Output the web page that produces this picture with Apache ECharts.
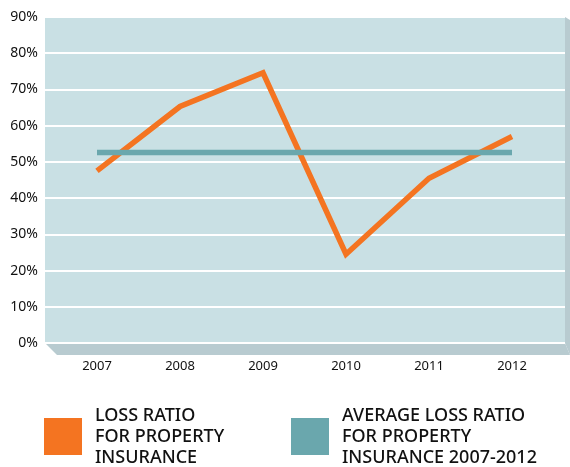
<!DOCTYPE html>
<html>
<head>
<meta charset="utf-8">
<script src="https://cdn.jsdelivr.net/npm/echarts@6/dist/echarts.min.js"></script>
<style>html,body{margin:0;padding:0;background:#fff}#c{width:570px;height:467px}</style>
</head>
<body>
<div id="c"></div>
<script>
var years = ['2007', '2008', '2009', '2010', '2011', '2012'];
var lossRatio = [47.5, 65.3, 74.6, 24.5, 45.5, 57.0];
var avgLossRatio = [52.6, 52.6, 52.6, 52.6, 52.6, 52.6];
var yTicks = [0, 10, 20, 30, 40, 50, 60, 70, 80, 90];
var lossName = 'LOSS RATIO\nFOR PROPERTY\nINSURANCE';
var avgName = 'AVERAGE LOSS RATIO\nFOR PROPERTY\nINSURANCE 2007-2012';

var W = 570, H = 467;
var PL = 45, PR = 565, PT = 17, PB = 343, DEPTH = 12, SIDE = 5;
var font = '"Noto Sans", "Open Sans", sans-serif';
var chart = echarts.init(document.getElementById('c'), null, {renderer: 'canvas'});

var legendText = {fontFamily: font, fontSize: 18, fontWeight: 500, lineHeight: 21, color: '#111111', padding: [0, 0, 0, 8]};

chart.setOption({
  animation: false,
  backgroundColor: '#ffffff',
  grid: [
    {left: PL, right: W - PR, top: PT, bottom: H - PB, show: true, backgroundColor: '#c9e0e4', borderWidth: 0},
    {left: 97, right: W - 512, top: PT, bottom: H - PB}
  ],
  xAxis: [
    {gridIndex: 0, type: 'category', data: years, show: false},
    {gridIndex: 1, type: 'category', data: years, boundaryGap: false,
     axisLine: {show: false}, axisTick: {show: false}, splitLine: {show: false},
     axisLabel: {margin: 17, fontFamily: font, fontSize: 13, color: '#111111'}}
  ],
  yAxis: [
    {gridIndex: 0, type: 'value', min: yTicks[0], max: yTicks[yTicks.length - 1], interval: 10,
     axisLine: {show: false}, axisTick: {show: false},
     splitLine: {show: true, lineStyle: {color: '#ffffff', width: 2}},
     axisLabel: {margin: 7, formatter: '{value}%', fontFamily: font, fontSize: 14, color: '#111111'}},
    {gridIndex: 1, type: 'value', min: yTicks[0], max: yTicks[yTicks.length - 1], interval: 10, show: false}
  ],
  legend: [
    {data: [lossName], left: 44, top: 405, padding: 0, icon: 'rect', itemWidth: 38, itemHeight: 37, itemGap: 0,
     textStyle: legendText, selectedMode: false},
    {data: [avgName], left: 291, top: 405, padding: 0, icon: 'rect', itemWidth: 38, itemHeight: 37, itemGap: 0,
     textStyle: legendText, selectedMode: false}
  ],
  graphic: [
    {type: 'polygon', silent: true, z: -1,
     shape: {points: [[PL, PB], [PR, PB], [PR + SIDE, PB + DEPTH], [PL + DEPTH, PB + DEPTH]]},
     style: {fill: '#b8cbd0'}},
    {type: 'polygon', silent: true, z: -1,
     shape: {points: [[PR, PT], [PR + SIDE, PT + 3], [PR + SIDE, PB + DEPTH], [PR, PB]]},
     style: {fill: '#b8cbd0'}}
  ],
  series: [
    {name: lossName, type: 'line', xAxisIndex: 1, yAxisIndex: 1, data: lossRatio,
     symbol: 'none', color: '#f47421', z: 3,
     lineStyle: {width: 5.5, color: '#f47421', join: 'miter', cap: 'butt'}},
    {name: avgName, type: 'line', xAxisIndex: 1, yAxisIndex: 1, data: avgLossRatio,
     symbol: 'none', color: '#6aa7ad', z: 4,
     lineStyle: {width: 5.5, color: '#6aa7ad', cap: 'butt'}}
  ]
});
</script>
</body>
</html>
